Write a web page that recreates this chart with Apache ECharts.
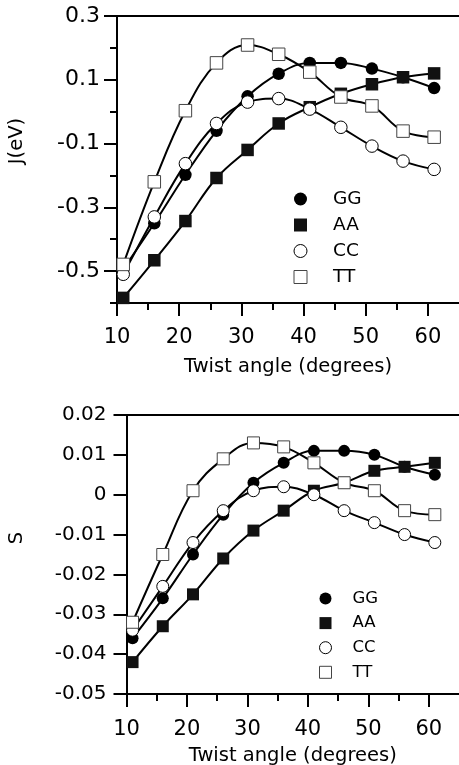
<!DOCTYPE html>
<html>
<head>
<meta charset="utf-8">
<script src="https://cdn.jsdelivr.net/npm/echarts@6/dist/echarts.min.js"></script>
<style>
html,body{margin:0;padding:0;background:#fff;}
#c{width:459px;height:765px;}
</style>
</head>
<body>
<div id="c"></div>
<script>
// ---- data ----
const angles = [11, 16, 21, 26, 31, 36, 41, 46, 51, 56, 61];
const seriesNames = ['GG', 'AA', 'CC', 'TT'];
// J (eV)
const jGG = [-0.494, -0.35, -0.198, -0.06, 0.048, 0.119, 0.153, 0.153, 0.135, 0.108, 0.074];
const jAA = [-0.584, -0.466, -0.343, -0.208, -0.12, -0.037, 0.014, 0.056, 0.086, 0.108, 0.12];
const jCC = [-0.51, -0.33, -0.163, -0.037, 0.03, 0.041, 0.008, -0.049, -0.108, -0.155, -0.181];
const jTT = [-0.479, -0.22, 0.003, 0.153, 0.209, 0.18, 0.124, 0.046, 0.018, -0.061, -0.08];
// S
const sGG = [-0.036, -0.026, -0.015, -0.005, 0.003, 0.008, 0.011, 0.011, 0.010, 0.007, 0.005];
const sAA = [-0.042, -0.033, -0.025, -0.016, -0.009, -0.004, 0.001, 0.003, 0.006, 0.007, 0.008];
const sCC = [-0.034, -0.023, -0.012, -0.004, 0.001, 0.002, 0.000, -0.004, -0.007, -0.010, -0.012];
const sTT = [-0.032, -0.015, 0.001, 0.009, 0.013, 0.012, 0.008, 0.003, 0.001, -0.004, -0.005];
// ticks
const xMajorTicks = [10, 20, 30, 40, 50, 60];
const xMinorTicks = [15, 25, 35, 45, 55];
const jLabelTicks = [-0.5, -0.3, -0.1, 0.1, 0.3];
const jAllTicks = [-0.6, -0.5, -0.4, -0.3, -0.2, -0.1, 0, 0.1, 0.2, 0.3];
const sTicks = [-0.05, -0.04, -0.03, -0.02, -0.01, 0, 0.01, 0.02];
const xTitle = 'Twist angle (degrees)';
const jTitle = 'J(eV)';
const sTitle = 'S';

// ---- styling ----
const FONT = 'DejaVu Sans';
const markerStyles = {
  GG: {symbol: 'circle', color: '#000', borderColor: '#000', borderWidth: 0},
  AA: {symbol: 'rect', color: '#111', borderColor: '#111', borderWidth: 0},
  CC: {symbol: 'circle', color: '#fff', borderColor: '#000', borderWidth: 1},
  TT: {symbol: 'rect', color: '#fff', borderColor: '#444', borderWidth: 1}
};
const pairs = (ys) => angles.map((a, i) => [a, ys[i]]);
const blackLine = {color: '#000', width: 2};

function fmtJ(v) { const r = Math.round(v * 10) / 10; return Math.abs(r) < 1e-9 ? '0' : r.toFixed(1); }
function fmtS(v) { const r = Math.round(v * 100) / 100; return Math.abs(r) < 1e-9 ? '0' : r.toFixed(2); }

function xAxesFor(grid, labelMargin, nameGap) {
  return [
    {
      gridIndex: grid, type: 'value', min: 10, max: 65, position: 'bottom',
      axisLine: {show: true, onZero: false, lineStyle: blackLine},
      axisTick: {show: true, customValues: xMajorTicks, length: 13, lineStyle: blackLine},
      axisLabel: {show: true, customValues: xMajorTicks, margin: labelMargin, fontSize: 21, fontFamily: FONT, color: '#000'},
      splitLine: {show: false},
      name: xTitle, nameLocation: 'middle', nameGap: nameGap,
      nameTextStyle: {fontSize: 19.5, fontFamily: FONT, color: '#000'}
    },
    {
      gridIndex: grid, type: 'value', min: 10, max: 65, position: 'bottom', offset: 0,
      axisLine: {show: false, onZero: false},
      axisTick: {show: true, customValues: xMinorTicks, length: 7, lineStyle: blackLine},
      axisLabel: {show: false},
      splitLine: {show: false}
    },
    {
      gridIndex: grid, type: 'value', min: 10, max: 65, position: 'top',
      axisLine: {show: true, onZero: false, lineStyle: blackLine},
      axisTick: {show: false}, axisLabel: {show: false}, splitLine: {show: false}
    }
  ];
}

const xAxis = [].concat(xAxesFor(0, 24, 54), xAxesFor(1, 25, 52));

const yAxis = [
  {
    gridIndex: 0, type: 'value', min: -0.6, max: 0.3, position: 'left',
    axisLine: {show: true, onZero: false, lineStyle: blackLine},
    axisTick: {show: true, customValues: jLabelTicks, length: 13, lineStyle: blackLine},
    axisLabel: {show: true, customValues: jLabelTicks, formatter: fmtJ, margin: 17, fontSize: 22, fontFamily: FONT, color: '#000'},
    splitLine: {show: false}
  },
  {
    gridIndex: 0, type: 'value', min: -0.6, max: 0.3, position: 'left', offset: 0,
    axisLine: {show: false, onZero: false},
    axisTick: {show: true, customValues: jAllTicks, length: 7, lineStyle: blackLine},
    axisLabel: {show: false},
    splitLine: {show: false}
  },
  {
    gridIndex: 1, type: 'value', min: -0.05, max: 0.02, position: 'left',
    axisLine: {show: true, onZero: false, lineStyle: blackLine},
    axisTick: {show: true, customValues: sTicks, length: 13, lineStyle: blackLine},
    axisLabel: {show: true, customValues: sTicks, formatter: fmtS, margin: 20, fontSize: 20, fontFamily: FONT, color: '#000'},
    splitLine: {show: false}
  }
];

function makeSeries(name, ys, xIdx, yIdx, size) {
  const m = markerStyles[name];
  return {
    name: name, type: 'line', xAxisIndex: xIdx, yAxisIndex: yIdx,
    data: pairs(ys), smooth: 0.4,
    symbol: m.symbol, symbolSize: size, showSymbol: true,
    lineStyle: {color: '#000', width: 2},
    itemStyle: {color: m.color, borderColor: m.borderColor, borderWidth: m.borderWidth},
    emphasis: {disabled: true},
    animation: false
  };
}

const topData = {GG: jGG, AA: jAA, CC: jCC, TT: jTT};
const botData = {GG: sGG, AA: sAA, CC: sCC, TT: sTT};
const series = [];
seriesNames.forEach(n => series.push(makeSeries(n, topData[n], 0, 0, 12.5)));
seriesNames.forEach(n => series.push(makeSeries(n, botData[n], 3, 2, 12)));

function legendData() {
  return seriesNames.map(n => {
    const m = markerStyles[n];
    return {name: n, icon: m.symbol, itemStyle: {color: m.color, borderColor: m.borderColor, borderWidth: m.borderWidth}};
  });
}

const option = {
  backgroundColor: '#fff',
  animation: false,
  grid: [
    {left: 117, top: 16, right: 0, height: 287, outerBoundsMode: 'none', containLabel: false},
    {left: 126.5, top: 415, right: 0, height: 279, outerBoundsMode: 'none', containLabel: false}
  ],
  xAxis: xAxis,
  yAxis: yAxis,
  legend: [
    {
      orient: 'vertical', left: 293.5, top: 189.5, padding: 0, itemWidth: 13, itemHeight: 13, itemGap: 7,
      selectedMode: false, data: legendData(),
      textStyle: {fontSize: 18.5, fontFamily: FONT, color: '#000', lineHeight: 13, padding: [0, 0, 0, 21]}
    },
    {
      orient: 'vertical', left: 319, top: 590, padding: 0, itemWidth: 12, itemHeight: 12, itemGap: 7.6,
      selectedMode: false, data: legendData(),
      textStyle: {fontSize: 16.5, fontFamily: FONT, color: '#000', lineHeight: 12, padding: [0, 0, 0, 16]}
    }
  ],
  graphic: [
    {type: 'text', x: 17, y: 141, rotation: Math.PI / 2,
     style: {text: jTitle, font: '19.5px "DejaVu Sans"', fill: '#000', align: 'center', verticalAlign: 'middle'}},
    {type: 'text', x: 17, y: 538, rotation: Math.PI / 2,
     style: {text: sTitle, font: '19.5px "DejaVu Sans"', fill: '#000', align: 'center', verticalAlign: 'middle'}}
  ],
  series: series
};

const chart = echarts.init(document.getElementById('c'), null, {renderer: 'canvas'});
chart.setOption(option);
</script>
</body>
</html>
